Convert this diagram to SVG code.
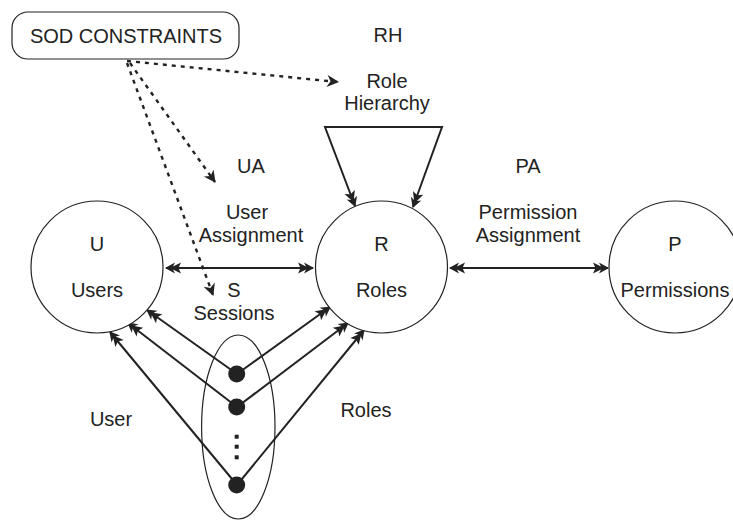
<svg xmlns="http://www.w3.org/2000/svg" width="733" height="520" viewBox="0 0 733 520">
<style>
text{font-family:"Liberation Sans",Arial,sans-serif;font-size:20px;fill:#222;text-anchor:middle}
.node{fill:#fff;stroke:#222;stroke-width:1.2}
.c{stroke:#222;stroke-width:2;fill:none}
.d{stroke:#222;stroke-width:2.4;fill:none;stroke-dasharray:4 5}
</style>
<defs>
<marker id="ah" markerUnits="userSpaceOnUse" markerWidth="18" markerHeight="12" viewBox="-16 -6 18 12" refX="0" refY="0" orient="auto-start-reverse" overflow="visible">
<path d="M1,0 L-9,-5.5 L-7,-1.5 L-15,-5.5 L-12.5,0 L-15,5.5 L-7,1.5 L-9,5.5 Z" fill="#222"/>
</marker>
<marker id="dh" markerUnits="userSpaceOnUse" markerWidth="16" markerHeight="12" viewBox="-14 -6 16 12" refX="0" refY="0" orient="auto" overflow="visible">
<path d="M1,0 L-11,-6 L-7.5,0 L-11,6 Z" fill="#222"/>
</marker>
</defs>
<rect width="733" height="520" fill="#fff"/>

<g id="connectors">
<line class="c" x1="166" y1="268" x2="313" y2="268" marker-start="url(#ah)" marker-end="url(#ah)"/>
<line class="c" x1="450" y1="268" x2="608" y2="268" marker-start="url(#ah)" marker-end="url(#ah)"/>
<path class="c" d="M355,206 L325,127 L442,127 L413,207" marker-start="url(#ah)" marker-end="url(#ah)"/>
<line class="c" x1="237" y1="374" x2="147" y2="310" marker-end="url(#ah)"/>
<line class="c" x1="237" y1="407" x2="128" y2="323" marker-end="url(#ah)"/>
<line class="c" x1="237" y1="485" x2="110" y2="332" marker-end="url(#ah)"/>
<line class="c" x1="237" y1="374" x2="330" y2="307" marker-end="url(#ah)"/>
<line class="c" x1="237" y1="407" x2="348" y2="323" marker-end="url(#ah)"/>
<line class="c" x1="237" y1="485" x2="364" y2="330" marker-end="url(#ah)"/>
<line class="d" x1="127" y1="61" x2="338" y2="82" stroke-dasharray="5 6" marker-end="url(#dh)"/>
<line class="d" x1="130" y1="63" x2="215" y2="182" marker-end="url(#dh)"/>
<line class="d" x1="127" y1="63" x2="213" y2="295" marker-end="url(#dh)"/>
</g>

<g id="sod">
<rect class="node" x="12" y="12" width="227" height="47" rx="16"/>
<text x="126" y="43">SOD CONSTRAINTS</text>
</g>

<g id="rh">
<text x="388" y="42">RH</text>
<text x="387" y="88">Role</text>
<text x="387" y="110">Hierarchy</text>
</g>

<g id="ua">
<text x="251" y="173">UA</text>
<text x="247" y="219">User</text>
<text x="251" y="242">Assignment</text>
</g>

<g id="pa">
<text x="528" y="173">PA</text>
<text x="528" y="219">Permission</text>
<text x="528" y="242">Assignment</text>
</g>

<g id="users">
<circle class="node" cx="97" cy="267" r="66" fill="none"/>
<text x="97" y="251">U</text>
<text x="97" y="297">Users</text>
</g>

<g id="roles">
<circle class="node" cx="381.5" cy="267" r="66" fill="none"/>
<text x="381.5" y="251">R</text>
<text x="381.5" y="297">Roles</text>
</g>

<g id="permissions">
<circle class="node" cx="675" cy="267" r="66"/>
<text x="675" y="251">P</text>
<text x="675" y="297">Permissions</text>
</g>

<g id="sessions">
<text x="234" y="297">S</text>
<text x="234" y="320">Sessions</text>
<ellipse cx="238.3" cy="427" rx="36.7" ry="92" fill="none" stroke="#222" stroke-width="1.2"/>
<circle cx="236.7" cy="374" r="8.5" fill="#222"/>
<circle cx="236.7" cy="407" r="8.5" fill="#222"/>
<circle cx="236.7" cy="485" r="8.5" fill="#222"/>
<rect x="234.7" y="434.7" width="4" height="4" fill="#222"/>
<rect x="234.7" y="444.7" width="4" height="4" fill="#222"/>
<rect x="234.7" y="455.3" width="4" height="4" fill="#222"/>
</g>

<g id="edge-labels">
<text x="111" y="426">User</text>
<text x="366" y="417">Roles</text>
</g>
</svg>
